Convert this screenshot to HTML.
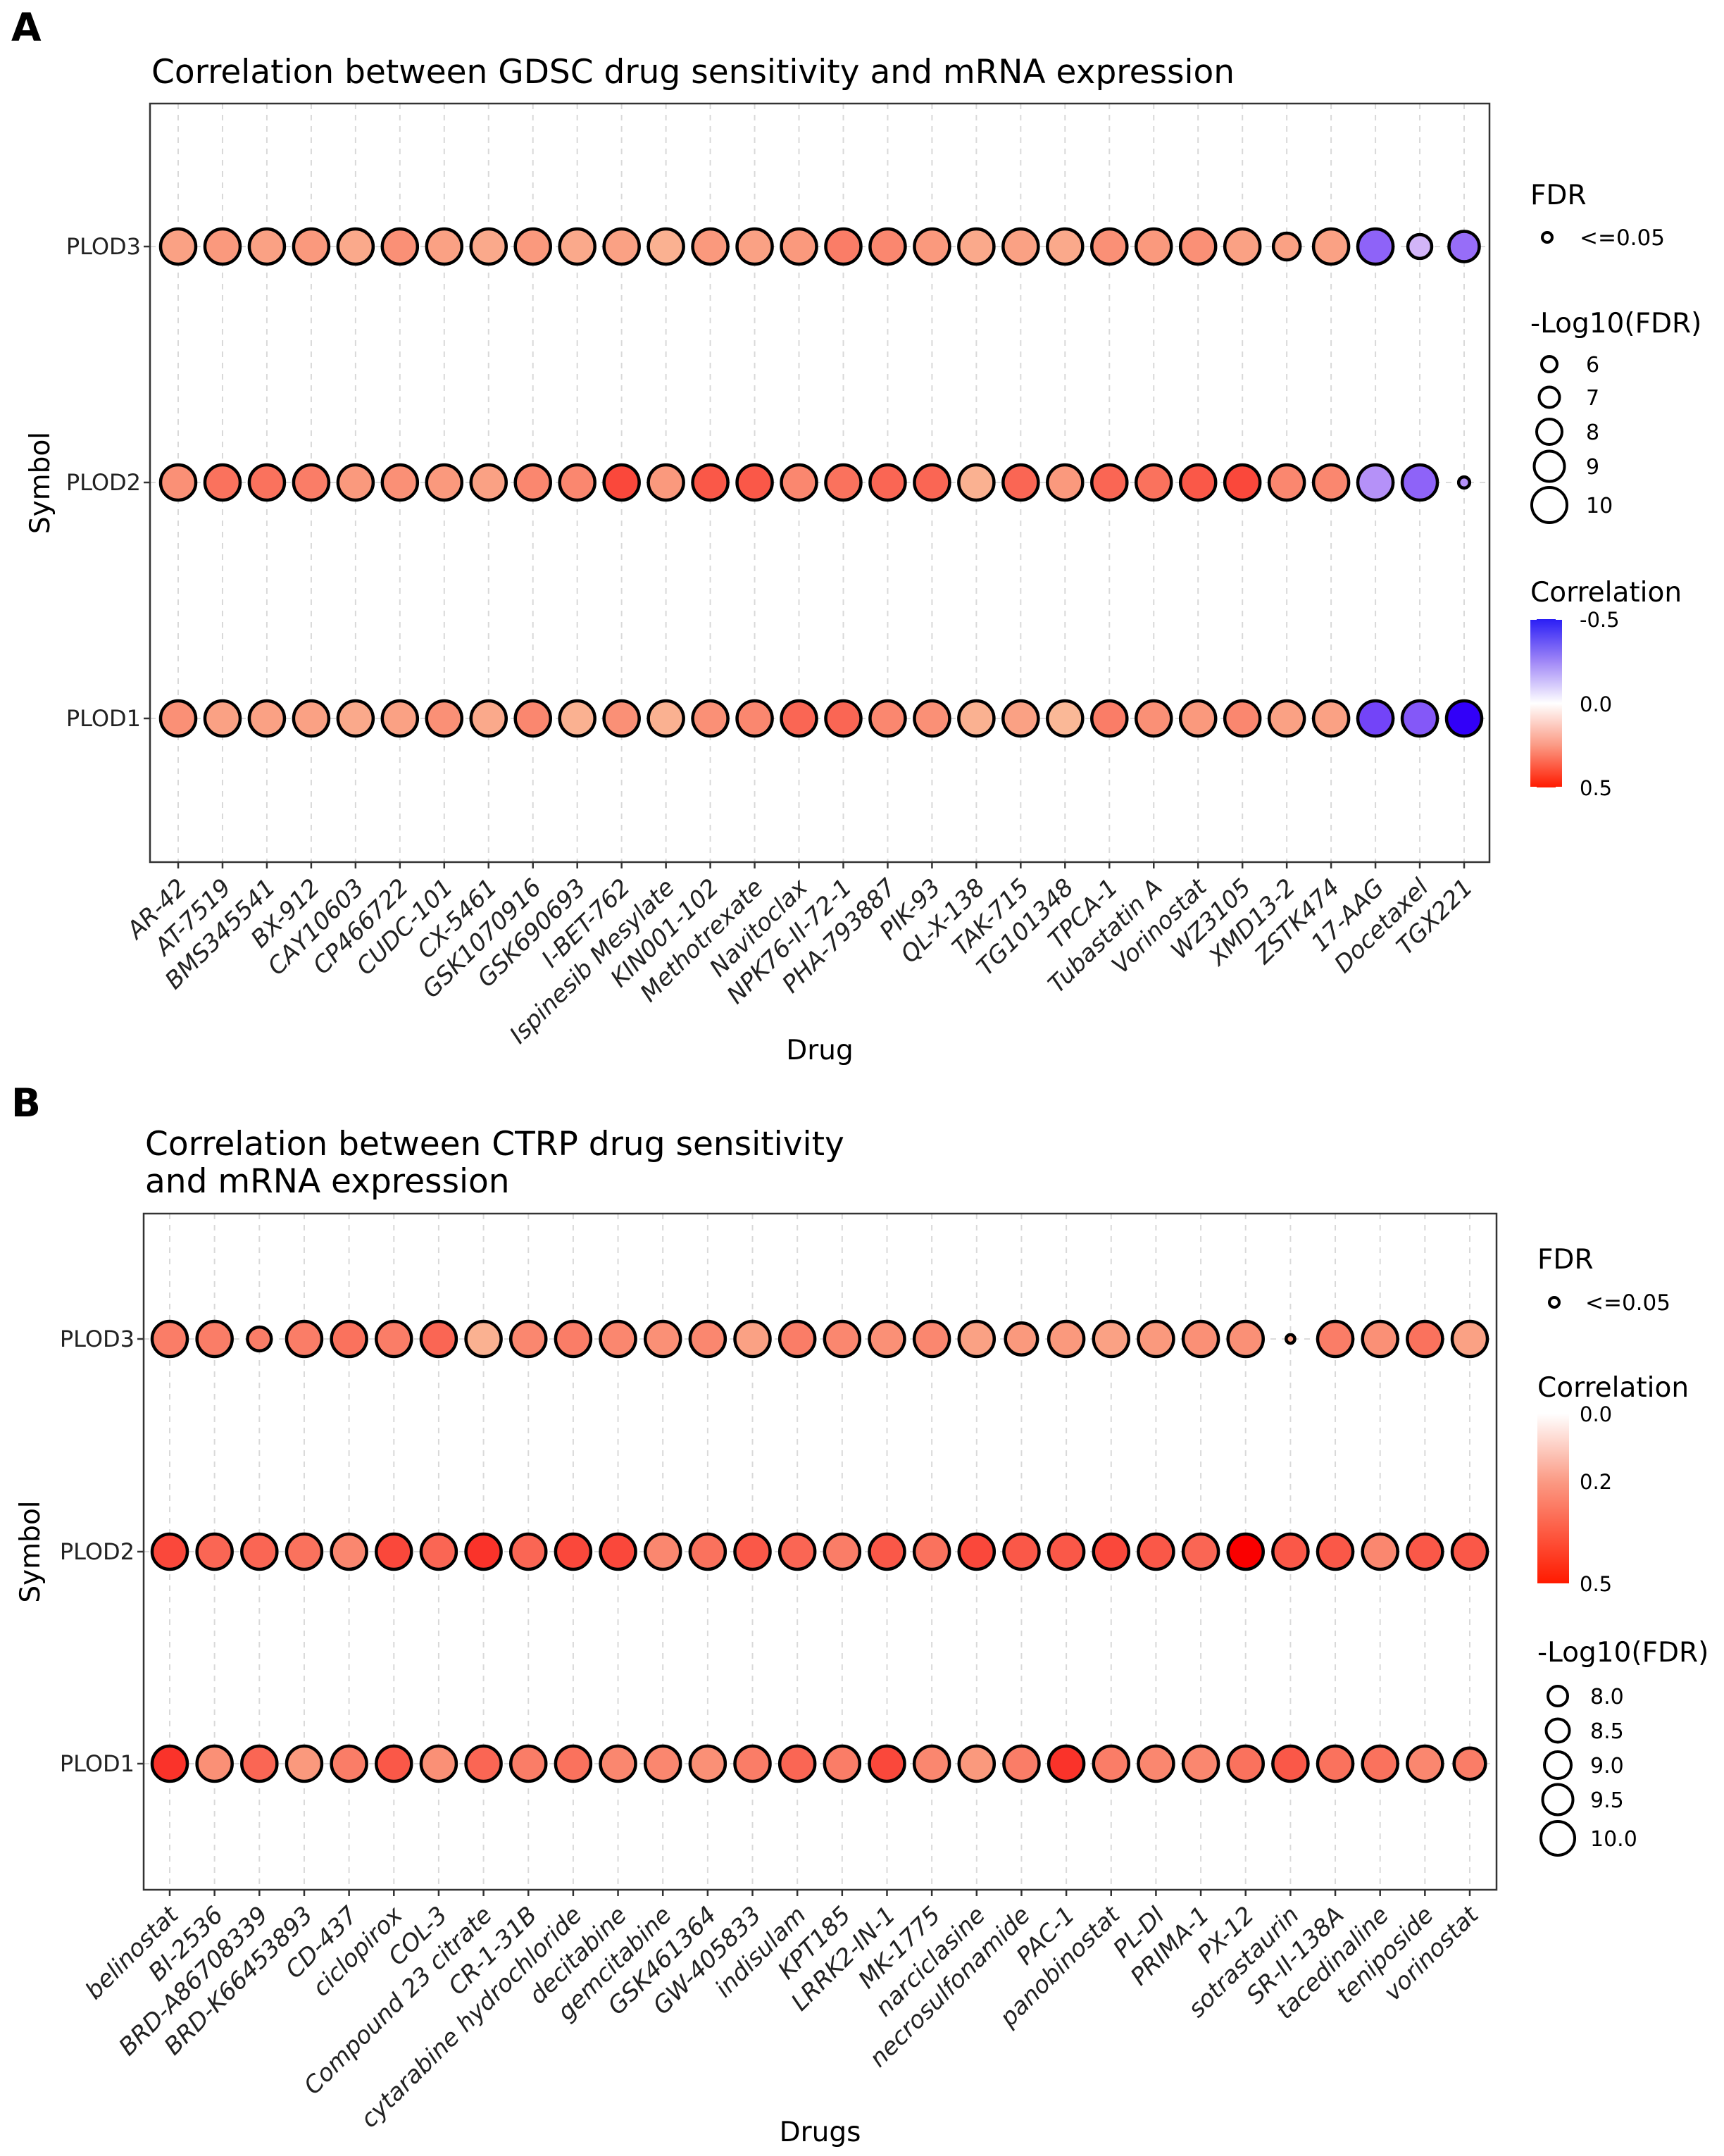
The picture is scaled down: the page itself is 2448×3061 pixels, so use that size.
<!DOCTYPE html>
<html><head><meta charset="utf-8"><style>
html,body{margin:0;padding:0;background:#fff}
svg{display:block;font-family:"DejaVu Sans","Liberation Sans",sans-serif}
</style></head><body>
<svg id="fig" width="2448" height="3061" viewBox="0 0 2448 3061">
<defs>
<linearGradient id="gA" x1="0" y1="0" x2="0" y2="1">
<stop offset="0" stop-color="#2a1ef5"/><stop offset="0.25" stop-color="#9f86f7"/><stop offset="0.5" stop-color="#ffffff"/><stop offset="0.75" stop-color="#fb9a84"/><stop offset="1" stop-color="#ff1a00"/></linearGradient>
<linearGradient id="gB" x1="0" y1="0" x2="0" y2="1">
<stop offset="0" stop-color="#ffffff"/><stop offset="0.4" stop-color="#fb9a84"/><stop offset="1" stop-color="#ff1a00"/></linearGradient>
</defs>
</svg>
<script>
const drugsA=["AR-42","AT-7519","BMS345541","BX-912","CAY10603","CP466722","CUDC-101","CX-5461","GSK1070916","GSK690693","I-BET-762","Ispinesib Mesylate","KIN001-102","Methotrexate","Navitoclax","NPK76-II-72-1","PHA-793887","PIK-93","QL-X-138","TAK-715","TG101348","TPCA-1","Tubastatin A","Vorinostat","WZ3105","XMD13-2","ZSTK474","17-AAG","Docetaxel","TGX221"];
const genes=["PLOD3","PLOD2","PLOD1"];
const corA_PLOD3=[.3,.32,.3,.32,.28,.34,.3,.28,.32,.28,.3,.26,.32,.3,.32,.38,.36,.32,.28,.3,.28,.34,.32,.34,.3,.3,.3,-.4,-.2,-.38];
const corA_PLOD2=[.34,.4,.4,.38,.32,.34,.32,.3,.36,.36,.46,.32,.44,.44,.36,.4,.42,.42,.26,.42,.32,.42,.4,.44,.46,.36,.36,-.3,-.4,-.3];
const corA_PLOD1=[.34,.3,.3,.3,.28,.3,.34,.28,.36,.26,.34,.26,.34,.36,.42,.42,.36,.34,.26,.3,.24,.38,.34,.32,.36,.3,.3,-.45,-.42,-.5];
const sizA_PLOD3=[10,10,10,10,10,10,10,10,10,10,10,10,10,10,10,10,10,10,10,10,10,10,10,10,10,8.3,10,10,7.7,9];
const sizA_PLOD2=[10,10,10,10,10,10,10,10,10,10,10,10,10,10,10,10,10,10,10,10,10,10,10,10,10,10,10,10,10,5.1];
const sizA_PLOD1=[10,10,10,10,10,10,10,10,10,10,10,10,10,10,10,10,10,10,10,10,10,10,10,10,10,10,10,10,10,10];
const drugsB=["belinostat","BI-2536","BRD-A86708339","BRD-K66453893","CD-437","ciclopirox","COL-3","Compound 23 citrate","CR-1-31B","cytarabine hydrochloride","decitabine","gemcitabine","GSK461364","GW-405833","indisulam","KPT185","LRRK2-IN-1","MK-1775","narciclasine","necrosulfonamide","PAC-1","panobinostat","PL-DI","PRIMA-1","PX-12","sotrastaurin","SR-II-138A","tacedinaline","teniposide","vorinostat"];
const corB_PLOD3=[.38,.38,.38,.38,.4,.38,.42,.26,.36,.38,.36,.34,.36,.3,.38,.36,.34,.36,.3,.32,.32,.3,.32,.34,.34,.3,.38,.34,.4,.3];
const corB_PLOD2=[.46,.42,.42,.4,.36,.46,.42,.48,.42,.46,.46,.36,.4,.44,.42,.38,.44,.4,.46,.44,.44,.46,.44,.42,.5,.44,.44,.36,.44,.44];
const corB_PLOD1=[.48,.34,.42,.32,.38,.44,.34,.42,.38,.4,.36,.36,.34,.38,.42,.38,.46,.36,.32,.38,.48,.38,.36,.36,.4,.44,.4,.4,.36,.38];
const sizB_PLOD3=[10,10,8.2,10,10,10,10,10,10,10,10,10,10,10,10,10,10,10,10,9.5,10,10,10,10,10,5.8,10,10,10,10];
const sizB_PLOD2=[10,10,10,10,10,10,10,10,10,10,10,10,10,10,10,10,10,10,10,10,10,10,10,10,10,10,10,10,10,10];
const sizB_PLOD1=[10,10,10,10,10,10,10,10,10,10,10,10,10,10,10,10,10,10,10,10,10,10,10,10,10,10,10,10,10,9.4];

const NS="http://www.w3.org/2000/svg";
const svg=document.getElementById("fig");
function mk(tag,attrs,parent,txt){const e=document.createElementNS(NS,tag);for(const k in attrs)e.setAttribute(k,attrs[k]);if(txt!==undefined)e.textContent=txt;(parent||svg).appendChild(e);return e;}
function colRed(v){const t=Math.min(1,Math.abs(v)/0.5);const g=Math.round(255*Math.pow(1-t,0.5));const b=Math.round(g*0.82);return `rgb(250,${g},${b})`;}
function colBlue(v){const t=Math.min(1,Math.abs(v)/0.5);const g=Math.round(240*Math.pow(1-t,0.55));const r=Math.round(Math.min(255,g+50*t+(1-t)*15));return `rgb(${r},${g},248)`;}
function col(v){return v>=0?colRed(v):colBlue(v);}

function panel(o){
  const g=mk("g",{});
  
  
  const t=mk("text",{x:16,y:o.letterY,"font-size":55,"font-weight":"bold",fill:"#000"},g,o.letter);
  
  
  o.title.forEach((s,i)=>{const tt=mk("text",{x:o.titleX,y:o.titleY+i*53,"font-size":47,fill:"#000"},g,s);
    
    });
  const L=o.box[0],T=o.box[1],R=o.box[2],B=o.box[3];
  const n=o.drugs.length;
  const xs=i=>o.x0+(o.x1-o.x0)*i/(n-1);
  const ys=j=>o.rowY[j];
  for(let i=0;i<n;i++){const gl=mk("line",{x1:xs(i),x2:xs(i),y1:T,y2:B,stroke:"#d9d9d9","stroke-width":2,"stroke-dasharray":"8,8"},g);
    
    }
  for(let j=0;j<3;j++){const gl=mk("line",{x1:L,x2:R,y1:ys(j),y2:ys(j),stroke:"#dcdcdc","stroke-width":2,"stroke-dasharray":"8,8"},g);
    
    }
  const box=mk("rect",{x:L,y:T,width:R-L,height:B-T,fill:"none",stroke:"#333","stroke-width":2.5},g);
  
  
  for(let j=0;j<3;j++){
    mk("line",{x1:L-9,x2:L,y1:ys(j),y2:ys(j),stroke:"#333","stroke-width":2.5},g);
    const yl=mk("text",{x:L-13,y:ys(j)+11,"font-size":32,"text-anchor":"end",fill:"#222"},g,genes[j]);
    
    
    for(let i=0;i<n;i++){
      const v=o.cor[j][i],s=o.siz[j][i];
      const r=Math.max(5,o.rA+o.rB*(s-o.sRef));
      const c=mk("circle",{cx:xs(i),cy:ys(j),r:r,fill:col(v),stroke:"#000","stroke-width":4.5},g);
      
      
    }
  }
  for(let i=0;i<n;i++){
    mk("line",{x1:xs(i),x2:xs(i),y1:B,y2:B+9,stroke:"#333","stroke-width":2.5},g);
    const xl=mk("text",{"font-size":34,"font-style":"italic","text-anchor":"end",fill:"#222",transform:`translate(${xs(i)+14},${B+38}) rotate(-45)`},g,o.drugs[i]);
    
    
  }
  const xt=mk("text",{x:(L+R)/2,y:o.xTitleY,"font-size":39,"text-anchor":"middle",fill:"#000"},g,o.xTitle);
  
  
  const yt=mk("text",{"font-size":39,"text-anchor":"middle",fill:"#000",transform:`translate(${o.yTitleX},${(T+B)/2}) rotate(-90)`},g,"Symbol");
  
  
  return g;
}

panel({name:"panel-a-gdsc",letter:"A",letterY:58,title:["Correlation between GDSC drug sensitivity and mRNA expression"],titleX:215,titleY:118,
  box:[213,147,2115,1224],x0:253,x1:2079,rowY:[350,685,1020],drugs:drugsA,
  cor:[corA_PLOD3,corA_PLOD2,corA_PLOD1],siz:[sizA_PLOD3,sizA_PLOD2,sizA_PLOD1],rA:11,rB:3.5,sRef:6,
  xTitle:"Drug",xTitleY:1504,yTitleX:70});
panel({name:"panel-b-ctrp",letter:"B",letterY:1585,title:["Correlation between CTRP drug sensitivity","and mRNA expression"],titleX:206,titleY:1640,
  box:[204,1723,2125,2683],x0:241,x1:2087,rowY:[1901,2203,2504],drugs:drugsB,
  cor:[corB_PLOD3,corB_PLOD2,corB_PLOD1],siz:[sizB_PLOD3,sizB_PLOD2,sizB_PLOD1],rA:16,rB:4.5,sRef:8,
  xTitle:"Drugs",xTitleY:3040,yTitleX:56});

function legText(x,y,s,fs,name){const t=mk("text",{x:x,y:y,"font-size":fs,fill:"#000"},svg,s);
  
  return t;}
// Legend A
legText(2173,290,"FDR",39,"legend-title-fdr");
mk("circle",{cx:2197,cy:337,r:7,fill:"none",stroke:"#000","stroke-width":4});
legText(2243,348,"<=0.05",31,"legend-entry");
legText(2173,472,"-Log10(FDR)",39,"legend-title-size");
const sizeLabsA=["6","7","8","9","10"],sizeValsA=[6,7,8,9,10],sizeYA=[517,564,613,662,717];
sizeValsA.forEach((v,i)=>{const c=mk("circle",{cx:2200,cy:sizeYA[i],r:11+3.5*(v-6),fill:"none",stroke:"#000","stroke-width":4});
  
  
  legText(2252,sizeYA[i]+11,sizeLabsA[i],30,"legend-entry");});
legText(2173,854,"Correlation",39,"legend-title-color");
const cbA=mk("rect",{x:2173,y:879,width:45,height:239,fill:"url(#gA)"});


[["-0.5",879],["0.0",999],["0.5",1118]].forEach(a=>{legText(2243,a[1]+11,a[0],29,"colorbar-label");
  mk("line",{x1:2173,x2:2182,y1:a[1],y2:a[1],stroke:"#fff","stroke-width":2});mk("line",{x1:2209,x2:2218,y1:a[1],y2:a[1],stroke:"#fff","stroke-width":2});});
// Legend B
legText(2183,1801,"FDR",39,"legend-title-fdr");
mk("circle",{cx:2207,cy:1849,r:7,fill:"none",stroke:"#000","stroke-width":4});
legText(2251,1860,"<=0.05",31,"legend-entry");
legText(2183,1983,"Correlation",39,"legend-title-color");
const cbB=mk("rect",{x:2183,y:2007,width:45,height:241,fill:"url(#gB)"});


[["0.0",2007],["0.2",2103],["0.5",2248]].forEach(a=>{legText(2243,a[1]+11,a[0],29,"colorbar-label");});
legText(2183,2359,"-Log10(FDR)",39,"legend-title-size");
const sizeLabsB=["8.0","8.5","9.0","9.5","10.0"],sizeValsB=[8,8.5,9,9.5,10],sizeYB=[2408,2457,2506,2555,2610];
sizeValsB.forEach((v,i)=>{const c=mk("circle",{cx:2212,cy:sizeYB[i],r:14+5*(v-8),fill:"none",stroke:"#000","stroke-width":4});
  
  
  legText(2258,sizeYB[i]+11,sizeLabsB[i],30,"legend-entry");});
</script>
</body></html>
